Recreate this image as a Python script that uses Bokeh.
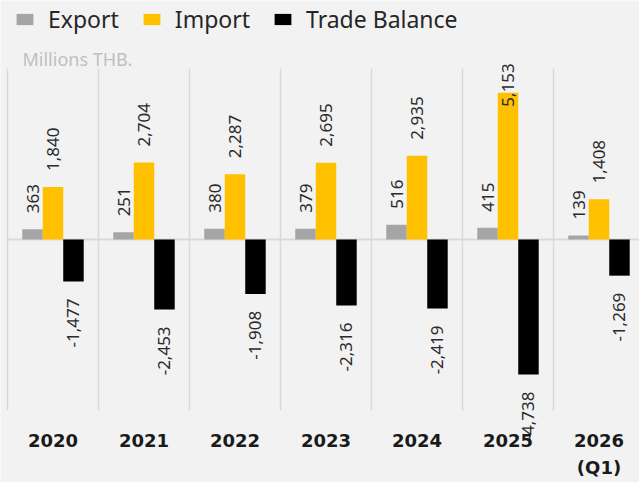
import numpy as np
from bokeh.plotting import figure
from bokeh.core.properties import value
from bokeh.models import (Range1d, ColumnDataSource, LabelSet, Label, Legend, LegendItem)
from bokeh.embed import file_html
from bokeh.resources import INLINE

# ---- data ----
years = ["2020", "2021", "2022", "2023", "2024", "2025", "2026"]
year_note = "(Q1)"          # second line under the last category
export_vals = [363, 251, 380, 379, 516, 415, 139]
import_vals = [1840, 2704, 2287, 2695, 2935, 5153, 1408]
balance_vals = [-1477, -2453, -1908, -2316, -2419, -4738, -1269]
unit_note = "Millions THB."

# value axis of the chart area
y_min, y_max = -6000, 6000
n = len(years)
bar_w = 0.225
label_room = 2150  # data units needed above a bar for an outside label

# ---- layout (pixels) ----
W, H = 639, 482
area_left, area_top, area_bottom = 7, 68, 72     # plot area margins in px
cat_px = 91                                       # width of one category in px
area_h = H - area_top - area_bottom
u_per_px = (y_max - y_min) / area_h

BG = "#f2f2f2"
C_EXP, C_IMP, C_BAL = "#a5a5a5", "#ffc000", "#000000"
GRID = "#d9d9d9"

p = figure(width=W, height=H,
           x_range=Range1d(-area_left / cat_px, (W - area_left) / cat_px),
           y_range=Range1d(y_min - area_bottom * u_per_px, y_max + area_top * u_per_px),
           output_backend="svg", toolbar_location=None,
           x_axis_location=None, y_axis_location=None,
           min_border=0,
           background_fill_color=BG, border_fill_color=BG,
           outline_line_color=None)
p.grid.visible = False

xc = np.arange(n) + 0.5
src = ColumnDataSource(dict(
    x_exp=xc - bar_w, x_imp=xc, x_bal=xc + bar_w,
    export=export_vals, imp=import_vals, bal=balance_vals,
))

# category separators and zero line (span the chart area only)
edges = list(range(n + 1))
p.segment(x0=edges, y0=[y_min] * len(edges), x1=edges, y1=[y_max] * len(edges),
          line_color=GRID, line_width=1.5)
p.segment(x0=[0], y0=[0], x1=[n], y1=[0], line_color=GRID, line_width=2)

r_exp = p.vbar(x="x_exp", top="export", bottom=0, width=bar_w, source=src,
               fill_color=C_EXP, line_color=None)
r_imp = p.vbar(x="x_imp", top="imp", bottom=0, width=bar_w, source=src,
               fill_color=C_IMP, line_color=None)
r_bal = p.vbar(x="x_bal", top="bal", bottom=0, width=bar_w, source=src,
               fill_color=C_BAL, line_color=None)

# data labels
up_x, up_y, up_t = [], [], []
in_x, in_y, in_t = [], [], []
for xs, vals in ((xc - bar_w, export_vals), (xc, import_vals)):
    for xv, v in zip(xs, vals):
        if v + label_room <= y_max:
            up_x.append(xv); up_y.append(v); up_t.append(f"{v:,}")
        else:
            in_x.append(xv); in_y.append(v); in_t.append(f"{v:,}")
dn_x = list(xc + bar_w); dn_y = list(balance_vals); dn_t = [f"{v:,}" for v in balance_vals]

lab_style = dict(angle=90, angle_units="deg", text_font=value("Noto Sans"),
                 text_font_size=value("17px"), text_color=value("#2b2b2b"),
                 text_baseline=value("middle"))
p.add_layout(LabelSet(x="x", y="y", text="t", y_offset=16, text_align=value("left"),
                      source=ColumnDataSource(dict(x=up_x, y=up_y, t=up_t)), **lab_style))
p.add_layout(LabelSet(x="x", y="y", text="t", y_offset=-14, text_align=value("left"),
                      source=ColumnDataSource(dict(x=in_x, y=in_y, t=in_t)), **lab_style))
p.add_layout(LabelSet(x="x", y="y", text="t", y_offset=-17, text_align=value("right"),
                      source=ColumnDataSource(dict(x=dn_x, y=dn_y, t=dn_t)), **lab_style))

# category labels under the chart area
cat_style = dict(text_font_size="18px", text_font_style="bold",
                 text_color="#1a1a1a", text_align="center", text_baseline="middle")
p.add_layout(LabelSet(x="x", y="y", text="t", y_offset=-30, text_font=value("DejaVu Sans"),
                      source=ColumnDataSource(dict(x=list(xc), y=[y_min] * n, t=years)),
                      **cat_style))
p.add_layout(Label(x=float(xc[-1]), y=y_min, y_offset=-57, text=year_note,
                   text_font="DejaVu Sans", **cat_style))

# legend
legend = Legend(items=[LegendItem(label="Export", renderers=[r_exp]),
                       LegendItem(label="Import", renderers=[r_imp]),
                       LegendItem(label="Trade Balance", renderers=[r_bal])],
                orientation="horizontal", location=(14, 447),
                label_text_font="Noto Sans", label_text_font_size="23px",
                label_text_color="#262626", glyph_width=21, glyph_height=14,
                label_standoff=13, spacing=22, padding=0, margin=0,
                border_line_color=None, background_fill_alpha=0)
p.add_layout(legend)

p.add_layout(Label(x=0, y=y_max, x_offset=15, y_offset=10, text=unit_note,
                   text_font="Noto Sans", text_font_size="18px", text_color="#bfbfbf",
                   text_baseline="middle"))

open("out.html", "w").write(file_html(p, INLINE))
